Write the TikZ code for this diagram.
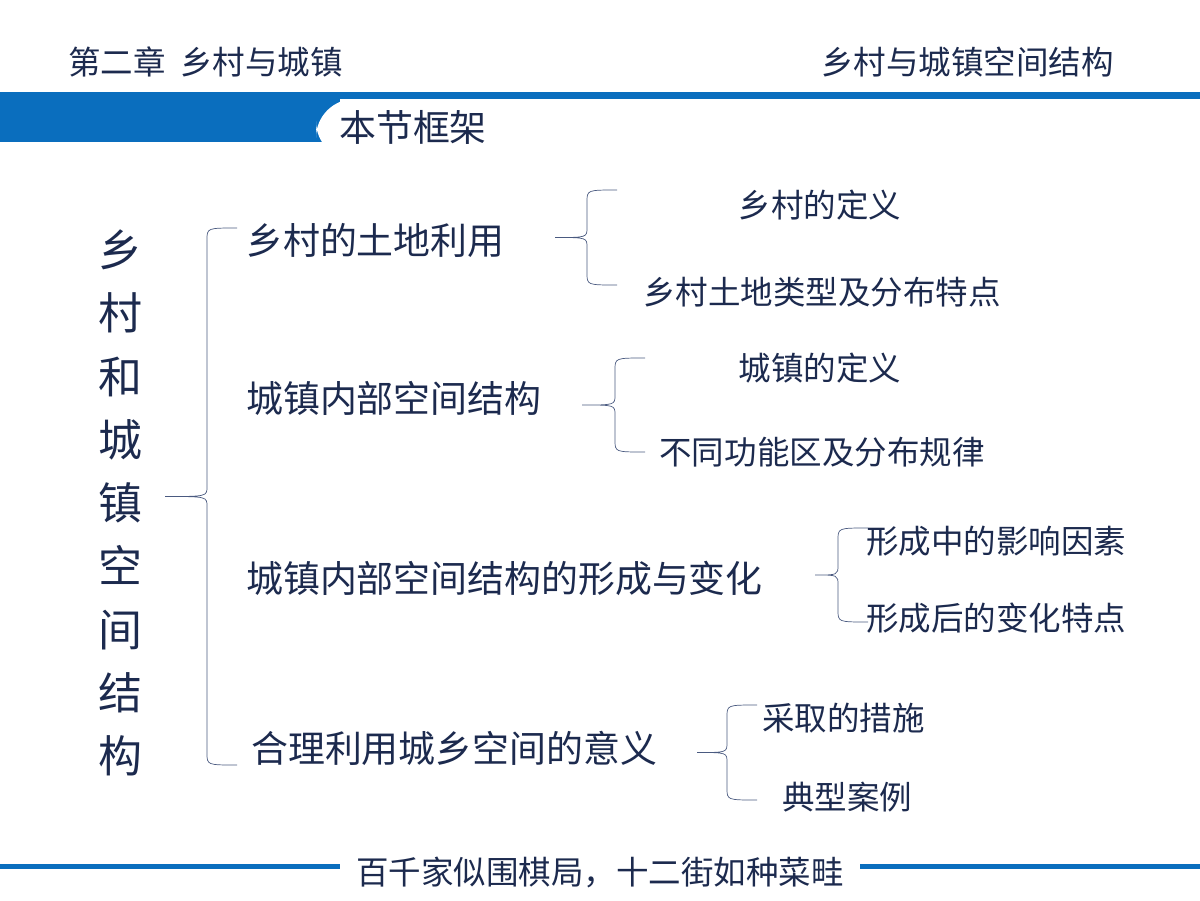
\documentclass[tikz,border=0pt]{standalone}
\usepackage{fontspec}
\setmainfont{Noto Sans CJK SC}
\usetikzlibrary{positioning}
\definecolor{barblue}{HTML}{0A6EBE}
\definecolor{inkblue}{HTML}{1C2A4E}
\definecolor{bracecol}{HTML}{4A5A80}
% brace: x, top y, bottom y, tip x
\newcommand{\mybrace}[4]{%
  \draw[bracecol, thin] (#1+30,#2) .. controls (#1,#2) .. (#1,#2+12)
    -- (#1,{(#2+#3)/2-10}) .. controls (#1,{(#2+#3)/2}) .. (#4,{(#2+#3)/2})
    (#1+30,#3) .. controls (#1,#3) .. (#1,#3-12)
    -- (#1,{(#2+#3)/2+10}) .. controls (#1,{(#2+#3)/2}) .. (#4,{(#2+#3)/2});}
\begin{document}
\begin{tikzpicture}[x=0.02cm, y=-0.02cm,
headtext/.style={text=inkblue, font=\fontsize{18.5}{22}\selectfont},
topictext/.style={text=inkblue, font=\fontsize{21}{24}\selectfont, anchor=west},
subtext/.style={text=inkblue, font=\fontsize{18.5}{22}\selectfont},
bigtext/.style={text=inkblue, font=\fontsize{25}{36}\selectfont, align=center},
]
\useasboundingbox (0,0) rectangle (1200,900);
%Header
\fill[barblue] (0,92) rectangle (1200,99);
\fill[barblue] (0,99) rectangle (340,142);
\fill[white, rounded corners=22] (316,99) rectangle (620,160);
\fill[white] (340,99) rectangle (620,160);
\node[headtext, anchor=west] (chap) at (62,62) {第二章\ \ 乡村与城镇};
\node[headtext, anchor=east] (sect) at (1120,62) {乡村与城镇空间结构};
\node[text=inkblue, font=\fontsize{21}{24}\selectfont, anchor=west] (frame) at (333,127) {本节框架};

%Main
\node[bigtext] (main) at (120,503) {乡\\村\\和\\城\\镇\\空\\间\\结\\构};
\mybrace{207}{228}{765}{165}

\node[topictext] (t1) at (240,240) {乡村的土地利用};
\node[topictext] (t2) at (240,398) {城镇内部空间结构};
\node[topictext] (t3) at (240,578) {城镇内部空间结构的形成与变化};
\node[topictext] (t4) at (245,748) {合理利用城乡空间的意义};

\mybrace{587}{190}{285}{555}
\mybrace{615}{358}{452}{582}
\mybrace{838}{528}{622}{815}
\mybrace{727}{705}{800}{697}

\node[subtext] (s11) at (820,205) {乡村的定义};
\node[subtext] (s12) at (822,292) {乡村土地类型及分布特点};
\node[subtext] (s21) at (820,368) {城镇的定义};
\node[subtext] (s22) at (822,452) {不同功能区及分布规律};
\node[subtext, anchor=west] (s31) at (860,541) {形成中的影响因素};
\node[subtext, anchor=west] (s32) at (860,618) {形成后的变化特点};
\node[subtext, anchor=west] (s41) at (756,718) {采取的措施};
\node[subtext, anchor=west] (s42) at (776,797) {典型案例};

%Footer
\fill[barblue] (0,864) rectangle (340,869);
\fill[barblue] (860,864) rectangle (1200,869);
\node[headtext] (motto) at (600,872) {百千家似围棋局，十二街如种菜畦};
\end{tikzpicture}
\end{document}
